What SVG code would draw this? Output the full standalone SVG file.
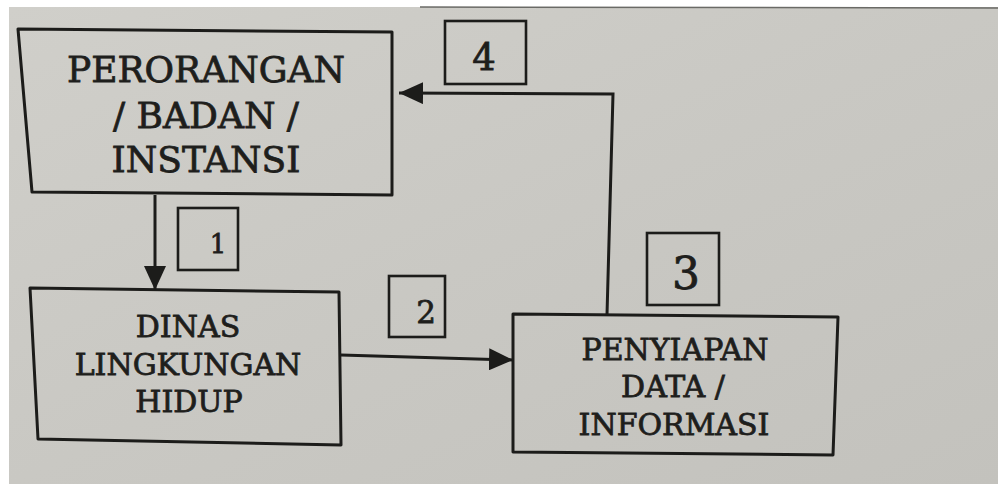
<svg xmlns="http://www.w3.org/2000/svg" width="998" height="484" viewBox="0 0 998 484">
  <defs>
    <linearGradient id="paper" x1="0" y1="0" x2="1" y2="1">
      <stop offset="0" stop-color="#d0cfca"/>
      <stop offset="0.5" stop-color="#c9c8c3"/>
      <stop offset="1" stop-color="#c3c2bd"/>
    </linearGradient>
    <marker id="ah" viewBox="0 0 24 22" refX="24" refY="11" markerWidth="24" markerHeight="22" markerUnits="userSpaceOnUse" orient="auto">
      <path d="M0,0 L24,11 L0,22 Z" fill="#1c1c1a"/>
    </marker>
    <style>
      .box { fill: none; stroke: #1c1c1a; stroke-width: 3; stroke-linejoin: round; }
      .lbl { fill: none; stroke: #1c1c1a; stroke-width: 2.6; }
      .edge { fill: none; stroke: #1c1c1a; stroke-width: 3; }
      .t { font-family: "DejaVu Serif", "Liberation Serif", serif; fill: #1e1e1c; stroke: #1e1e1c; stroke-width: 0.8; text-anchor: middle; }
    </style>
  </defs>
  <rect width="998" height="484" fill="#ffffff"/>
  <rect x="9" y="7" width="989" height="477" fill="url(#paper)"/>
  <line x1="420" y1="7" x2="998" y2="8" stroke="#6a6a66" stroke-width="1.5"/>

  <g id="perorangan">
    <polygon class="box" points="18,29 392,32 392,195 32,192"/>
    <text class="t" x="206" y="82" font-size="36">PERORANGAN</text>
    <text class="t" x="206" y="128" font-size="36">/ BADAN /</text>
    <text class="t" x="206" y="172" font-size="36">INSTANSI</text>
  </g>

  <g id="dinas">
    <polygon class="box" points="30,288 339,292 341,445 38,439"/>
    <text class="t" x="188" y="337" font-size="30">DINAS</text>
    <text class="t" x="188" y="375" font-size="30">LINGKUNGAN</text>
    <text class="t" x="189" y="412" font-size="30">HIDUP</text>
  </g>

  <g id="penyiapan">
    <polygon class="box" points="513,314 838,317 833,455 513,452"/>
    <text class="t" x="675" y="360" font-size="30">PENYIAPAN</text>
    <text class="t" x="673" y="397" font-size="30">DATA /</text>
    <text class="t" x="674" y="435" font-size="30">INFORMASI</text>
  </g>

  <g id="label1">
    <rect class="lbl" x="178" y="208" width="60" height="62"/>
    <text class="t" x="218" y="253" font-size="26">1</text>
  </g>
  <g id="label2">
    <rect class="lbl" x="389" y="276" width="56" height="61"/>
    <text class="t" x="426" y="323" font-size="31">2</text>
  </g>
  <g id="label3">
    <rect class="lbl" x="647" y="233" width="72" height="72"/>
    <text class="t" x="686" y="289" font-size="44">3</text>
  </g>
  <g id="label4">
    <rect class="lbl" x="445" y="21" width="81" height="63"/>
    <text class="t" x="484" y="70" font-size="37">4</text>
  </g>

  <g id="connectors">
    <path class="edge" d="M155,195 L155,290" marker-end="url(#ah)"/>
    <path class="edge" d="M341,355 L513,360" marker-end="url(#ah)"/>
    <path class="edge" d="M607,315 L613,94 L399,93" marker-end="url(#ah)"/>
  </g>
</svg>
